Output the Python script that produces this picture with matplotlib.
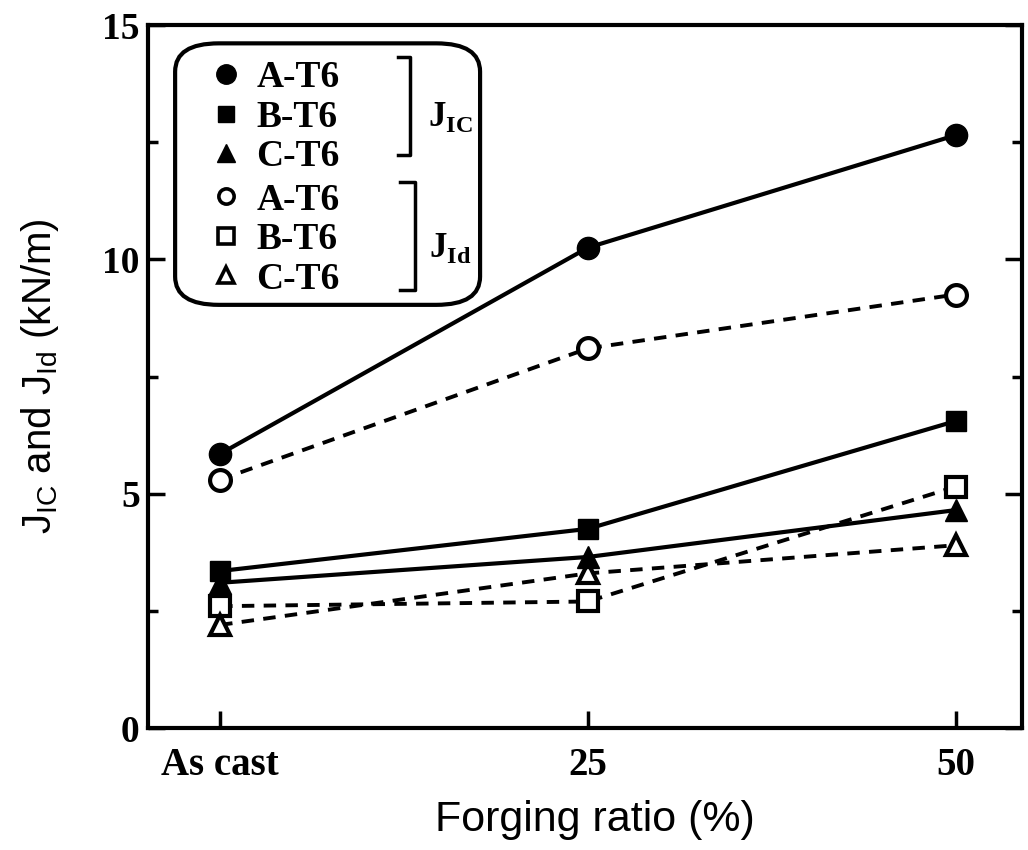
# plot.py - J_IC / J_Id vs forging ratio
import matplotlib
matplotlib.use("Agg")
import matplotlib.pyplot as plt
from matplotlib.lines import Line2D
from matplotlib.patches import FancyBboxPatch

# categories on the x axis
ratios = ["As cast", "25", "50"]

# J_IC (kN/m), filled markers, solid lines
jic_a = [5.85, 10.25, 12.65]
jic_b = [3.35, 4.25, 6.55]
jic_c = [3.10, 3.65, 4.65]

# J_Id (kN/m), open markers, dashed lines
jid_a = [5.30, 8.10, 9.25]
jid_b = [2.60, 2.70, 5.15]
jid_c = [2.20, 3.30, 3.90]

series_names = ["A-T6", "B-T6", "C-T6"]

serif = dict(family="Liberation Serif", weight="bold")
sans = dict(family="Liberation Sans")

fig = plt.figure(figsize=(10.28, 8.5), dpi=100)
ax = fig.add_axes([0.144, 0.1435, 0.850, 0.827])

x = list(range(len(ratios)))
dash = (0, (3.2, 2.4))

ax.plot(x, jid_a, color="black", lw=2.8, ls=dash, marker="o", ms=15,
        mfc="white", mec="black", mew=3)
ax.plot(x, jid_b, color="black", lw=2.8, ls=dash, marker="s", ms=14,
        mfc="white", mec="black", mew=3)
ax.plot(x, jid_c, color="black", lw=2.8, ls=dash, marker="^", ms=15,
        mfc="white", mec="black", mew=3)

ax.plot(x, jic_a, color="black", lw=3, marker="o", ms=16)
ax.plot(x, jic_b, color="black", lw=3, marker="s", ms=14)
ax.plot(x, jic_c, color="black", lw=3, marker="^", ms=16)

ax.set_xlim(-0.196, 2.18)
ax.set_ylim(0, 15)
ax.set_xticks(x)
ax.set_xticklabels(ratios, fontsize=28, **serif)
ax.set_yticks([0, 5, 10, 15])
ax.set_yticks([2.5, 7.5, 12.5], minor=True)
for lab in ax.get_yticklabels():
    lab.set_fontsize(27)
    lab.set_fontfamily("Liberation Serif")
    lab.set_fontweight("bold")

ax.tick_params(axis="y", which="major", direction="in", length=12, width=2.5,
               right=True, pad=6)
ax.tick_params(axis="y", which="minor", direction="in", length=7, width=2.5,
               right=True)
ax.tick_params(axis="x", which="major", direction="in", length=12, width=2.5,
               top=False, pad=14)
for s in ax.spines.values():
    s.set_linewidth(3)

ax.set_xlabel("Forging ratio (%)", fontsize=31, **sans)
ax.xaxis.set_label_coords(0.511, -0.103)
ax.set_ylabel(r"J$_{\mathregular{IC}}$ and J$_{\mathregular{Id}}$ (kN/m)",
              fontsize=29, **sans)
ax.yaxis.set_label_coords(-0.100, 0.50)

# rounded legend box
box = FancyBboxPatch((0.031, 0.602), 0.349, 0.372,
                     boxstyle="round,pad=0,rounding_size=0.05",
                     transform=ax.transAxes, fc="white", ec="black", lw=3,
                     zorder=5, mutation_aspect=703 / 874)
ax.add_patch(box)

filled = [Line2D([], [], color="black", ls="none", marker=m, ms=s)
          for m, s in zip(["o", "s", "^"], [14, 12, 13])]
opened = [Line2D([], [], color="black", ls="none", marker=m, ms=11,
                 mfc="white", mew=2.6)
          for m in ["o", "s", "^"]]

leg_kw = dict(frameon=False, loc="upper left", borderpad=0, borderaxespad=0,
              handlelength=1.0, handletextpad=0.30, labelspacing=0.12,
              prop=dict(family="Liberation Serif", weight="bold", size=27))
leg1 = ax.legend(filled, series_names, bbox_to_anchor=(0.068, 0.950), **leg_kw)
leg1.set_zorder(6)
ax.add_artist(leg1)
leg2 = ax.legend(opened, series_names, bbox_to_anchor=(0.068, 0.776), **leg_kw)
leg2.set_zorder(6)

# brackets grouping J_IC and J_Id
ax.plot([0.286, 0.300, 0.300, 0.286], [0.955, 0.955, 0.815, 0.815],
        color="black", lw=2.5, transform=ax.transAxes, zorder=7)
ax.plot([0.288, 0.306, 0.306, 0.288], [0.777, 0.777, 0.623, 0.623],
        color="black", lw=2.5, transform=ax.transAxes, zorder=7)
ax.text(0.320, 0.869, r"J$_{\mathregular{IC}}$", transform=ax.transAxes,
        fontsize=25, va="center", ha="left", zorder=7, **serif)
ax.text(0.322, 0.683, r"J$_{\mathregular{Id}}$", transform=ax.transAxes,
        fontsize=25, va="center", ha="left", zorder=7, **serif)

fig.savefig("out.png", dpi=100)
